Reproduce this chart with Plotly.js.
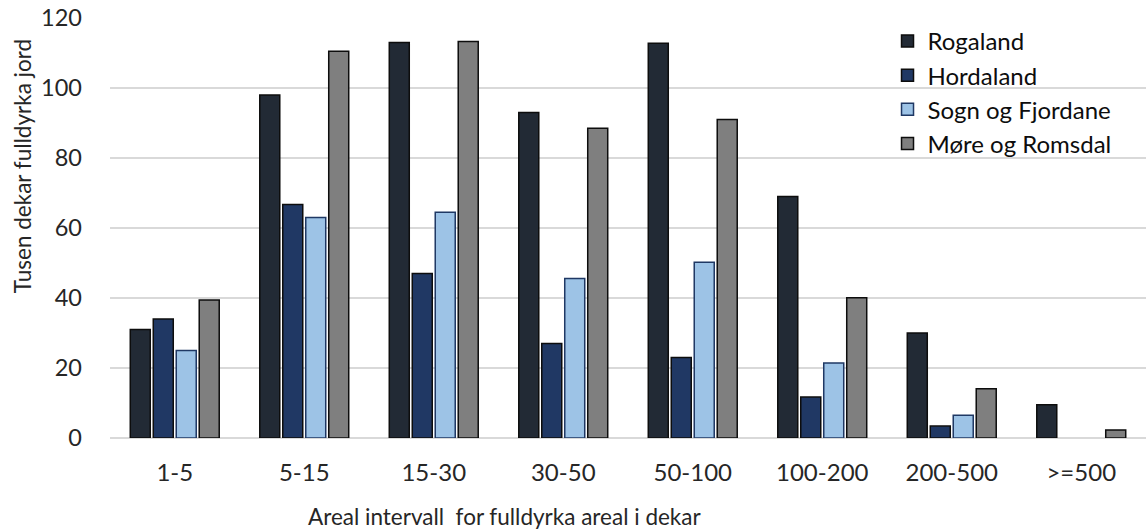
<!DOCTYPE html>
<html>
<head>
<meta charset="utf-8">
<script src="https://cdn.plot.ly/plotly-3.0.1.min.js"></script>
<style>
  html, body { margin: 0; padding: 0; background: #ffffff; }
  #chart { width: 1146px; height: 529px; }
</style>
</head>
<body>
<div id="chart"></div>
<script>
// Area intervals (dekar) on the category axis
const intervals = ['1-5', '5-15', '15-30', '30-50', '50-100', '100-200', '200-500', '>=500'];

// Fully cultivated land, thousand dekar, per county
const rogaland = [31, 98, 113, 93, 112.8, 69, 30, 9.5];
const hordaland = [34, 66.7, 47, 27, 23, 11.7, 3.4, null];
const sognOgFjordane = [25, 63, 64.5, 45.6, 50.2, 21.4, 6.5, null];
const moreOgRomsdal = [39.4, 110.5, 113.3, 88.5, 91, 40.1, 14.1, 2.3];

const seriesNames = ['Rogaland', 'Hordaland', 'Sogn og Fjordane', 'Møre og Romsdal'];
const seriesValues = [rogaland, hordaland, sognOgFjordane, moreOgRomsdal];
const fillColors = ['#222a35', '#203864', '#9dc3e6', '#7f7f7f'];
const lineColors = ['#0d0d0d', '#0d0d0d', '#1f3864', '#0d0d0d'];

const FONT = 'Lato, "Open Sans", sans-serif';
const TEXT = '#262626';

const traces = seriesNames.map((name, i) => ({
  type: 'bar',
  name: name,
  x: intervals,
  y: seriesValues[i],
  marker: { color: fillColors[i], line: { color: lineColors[i], width: 1.5 } },
  legendgroup: 'g' + i,
  hoverinfo: 'x+y+name'
}));

const layout = {
  width: 1146,
  height: 529,
  margin: { l: 110, r: 0, t: 18, b: 91 },
  paper_bgcolor: '#ffffff',
  plot_bgcolor: '#ffffff',
  barmode: 'group',
  bargap: 0.29,
  bargroupgap: 0.13,
  font: { family: FONT, color: TEXT, size: 22 },
  xaxis: {
    type: 'category',
    tickfont: { family: FONT, size: 24, color: TEXT },
    ticks: '',
    ticklabelstandoff: 18,
    showgrid: false,
    showline: false,
    zeroline: false
  },
  yaxis: {
    range: [0, 120],
    dtick: 20,
    tickfont: { family: FONT, size: 23.5, color: TEXT },
    ticks: '',
    ticklabelstandoff: 27,
    showgrid: true,
    gridcolor: '#d9d9d9',
    gridwidth: 1.5,
    zeroline: true,
    zerolinecolor: '#d9d9d9',
    zerolinewidth: 1.5,
    showline: false
  },
  legend: {
    x: 0.7505,
    y: 0.998,
    xanchor: 'left',
    yanchor: 'top',
    bgcolor: 'rgba(0,0,0,0)',
    font: { family: FONT, size: 24, color: '#0d0d0d' },
    traceorder: 'grouped',
    tracegroupgap: 0
  },
  annotations: [
    {
      text: 'Areal intervall  for fulldyrka areal i dekar',
      xref: 'paper', yref: 'paper',
      x: 0.381, y: -0.186,
      xanchor: 'center', yanchor: 'middle',
      showarrow: false,
      font: { family: FONT, size: 22.5, color: TEXT }
    },
    {
      text: 'Tusen dekar fulldyrka jord',
      xref: 'paper', yref: 'paper',
      x: -0.085, y: 0.647,
      xanchor: 'center', yanchor: 'middle',
      textangle: -90,
      showarrow: false,
      font: { family: FONT, size: 22.5, color: TEXT }
    }
  ]
};

Plotly.newPlot('chart', traces, layout, { displayModeBar: false, staticPlot: true });
</script>
</body>
</html>
